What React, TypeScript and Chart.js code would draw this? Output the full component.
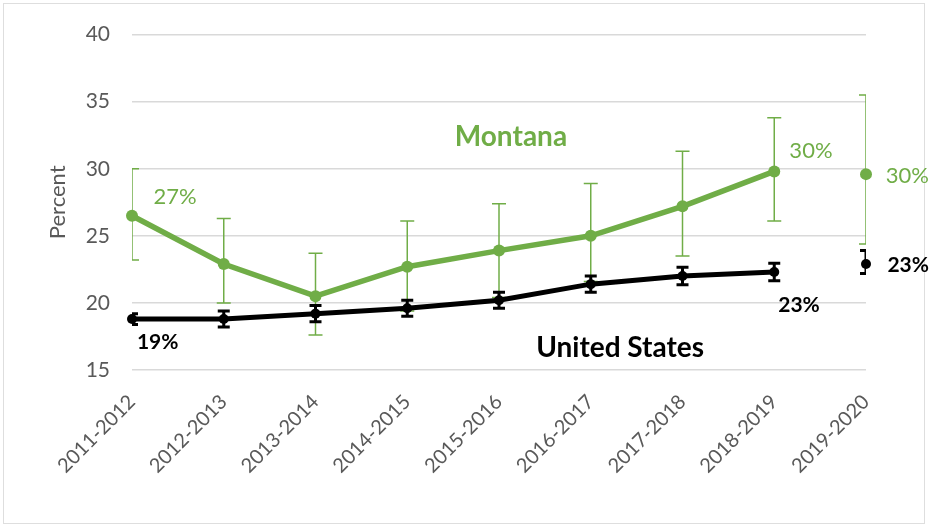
import React, { useEffect, useRef } from "react";
import { Chart, registerables } from "chart.js";

Chart.register(...registerables);

const categories = [
  "2011-2012", "2012-2013", "2013-2014", "2014-2015", "2015-2016",
  "2016-2017", "2017-2018", "2018-2019", "2019-2020",
];

// Montana (green) — 2019-2020 shown as a separate, unconnected point
const montanaValues = [26.5, 22.9, 20.5, 22.7, 23.9, 25.0, 27.2, 29.8, 29.6];
const montanaLower = [23.2, 20.0, 17.6, 19.4, 20.4, 21.6, 23.5, 26.1, 24.4];
const montanaUpper = [30.0, 26.3, 23.7, 26.1, 27.4, 28.9, 31.3, 33.8, 35.5];

// United States (black)
const usValues = [18.8, 18.8, 19.2, 19.6, 20.2, 21.4, 22.0, 22.3, 22.9];
const usLower = [18.4, 18.2, 18.6, 19.0, 19.6, 20.8, 21.35, 21.65, 22.2];
const usUpper = [19.2, 19.4, 19.8, 20.2, 20.8, 22.0, 22.65, 22.95, 23.9];

const yTicks = [15, 20, 25, 30, 35, 40];

// Text annotations in data coordinates (category index, value)
const annotationTexts = ["27%", "19%", "30%", "30%", "23%", "23%", "Montana", "United States"];
const annotationX = [0.47, 0.28, 7.4, 8.45, 8.46, 7.27, 4.13, 5.32];
const annotationY = [27.9, 17.1, 31.3, 29.45, 22.8, 19.8, 32.4, 16.65];
const annotationSeries = ["mt", "us", "mt", "mt", "us", "us", "mt", "us"];
const annotationBold = [false, true, false, false, true, true, true, true];
const annotationSize = [22, 21, 22, 22, 21, 21, 28, 28];

const GREEN = "#70AD47";
const BLACK = "#000000";
const GRAY = "#595959";
const FONT = "Lato, 'Open Sans', sans-serif";

const lineOnly = (vals: number[]) => vals.map((v, i) => (i < vals.length - 1 ? v : null));
const lastOnly = (vals: number[]) => vals.map((v, i) => (i === vals.length - 1 ? v : null));

const errorBarPlugin = {
  id: "errorBars",
  beforeDatasetsDraw(chart: any) {
    const { ctx, chartArea, scales } = chart;
    const x = scales.x;
    const y = scales.y;
    ctx.save();
    ctx.beginPath();
    ctx.rect(chartArea.left, chartArea.top, chartArea.right - chartArea.left, chartArea.bottom - chartArea.top);
    ctx.clip();
    const drawSet = (lo: number[], hi: number[], color: string, lw: number, cap: number) => {
      ctx.strokeStyle = color;
      ctx.lineWidth = lw;
      for (let i = 0; i < lo.length; i++) {
        const px = x.getPixelForValue(i);
        const y1 = y.getPixelForValue(lo[i]);
        const y2 = y.getPixelForValue(hi[i]);
        ctx.beginPath();
        ctx.moveTo(px, y1);
        ctx.lineTo(px, y2);
        ctx.moveTo(px - cap, y1);
        ctx.lineTo(px + cap, y1);
        ctx.moveTo(px - cap, y2);
        ctx.lineTo(px + cap, y2);
        ctx.stroke();
      }
    };
    drawSet(montanaLower, montanaUpper, GREEN, 1.5, 7);
    drawSet(usLower, usUpper, BLACK, 3, 6);
    ctx.restore();
  },
};

const annotationPlugin = {
  id: "textAnnotations",
  afterDatasetsDraw(chart: any) {
    const { ctx, scales } = chart;
    ctx.save();
    ctx.textAlign = "center";
    ctx.textBaseline = "middle";
    for (let i = 0; i < annotationTexts.length; i++) {
      ctx.font = `${annotationBold[i] ? "bold " : ""}${annotationSize[i]}px ${FONT}`;
      ctx.fillStyle = annotationSeries[i] === "mt" ? GREEN : BLACK;
      ctx.fillText(
        annotationTexts[i],
        scales.x.getPixelForValue(annotationX[i]),
        scales.y.getPixelForValue(annotationY[i])
      );
    }
    ctx.restore();
  },
};

export default function App() {
  const canvasRef = useRef<HTMLCanvasElement | null>(null);

  useEffect(() => {
    if (!canvasRef.current) return;
    const pointStyle = (color: string, r: number) => ({
      borderColor: color,
      backgroundColor: color,
      pointRadius: r,
      pointBorderWidth: 0,
      pointBackgroundColor: color,
      clip: false as any,
    });
    const chart = new Chart(canvasRef.current, {
      type: "line",
      data: {
        labels: categories,
        datasets: [
          { label: "United States", data: lineOnly(usValues), borderWidth: 5, ...pointStyle(BLACK, 5) },
          { label: "United States 2019-2020", data: lastOnly(usValues), showLine: false, ...pointStyle(BLACK, 5) },
          { label: "Montana", data: lineOnly(montanaValues), borderWidth: 5.5, ...pointStyle(GREEN, 6) },
          { label: "Montana 2019-2020", data: lastOnly(montanaValues), showLine: false, ...pointStyle(GREEN, 6) },
        ],
      },
      options: {
        responsive: false,
        animation: false,
        layout: { padding: { left: 0, top: 33, right: 65, bottom: 0 } },
        plugins: {
          legend: { display: false },
          tooltip: { enabled: false },
        },
        scales: {
          x: {
            type: "category",
            offset: false,
            grid: { display: false },
            border: { display: false },
            ticks: {
              minRotation: 45,
              maxRotation: 45,
              autoSkip: false,
              color: GRAY,
              padding: 12,
              font: { family: FONT, size: 20 },
            },
            afterFit(scale: any) {
              scale.height = 157;
            },
          },
          y: {
            min: 15,
            max: 40,
            afterBuildTicks(scale: any) {
              scale.ticks = yTicks.map((v) => ({ value: v }));
            },
            grid: { color: "#d9d9d9", lineWidth: 1.5, drawTicks: false },
            border: { display: false },
            ticks: {
              color: GRAY,
              padding: 22,
              font: { family: FONT, size: 21 },
            },
            title: {
              display: true,
              text: "Percent",
              color: GRAY,
              font: { family: FONT, size: 22 },
              padding: { top: 45, bottom: 0 },
            },
            afterFit(scale: any) {
              scale.width = 132;
            },
          },
        },
      },
      plugins: [errorBarPlugin, annotationPlugin],
    });
    return () => chart.destroy();
  }, []);

  return (
    <div
      style={{
        position: "absolute",
        left: 0,
        top: 0,
        width: 931,
        height: 527,
        background: "#ffffff",
      }}
    >
      <div
        style={{
          position: "absolute",
          left: 3,
          top: 3,
          width: 920,
          height: 519,
          border: "1.5px solid #dedede",
        }}
      />
      <canvas ref={canvasRef} width={931} height={527} style={{ position: "absolute", left: 0, top: 0 }} />
    </div>
  );
}
